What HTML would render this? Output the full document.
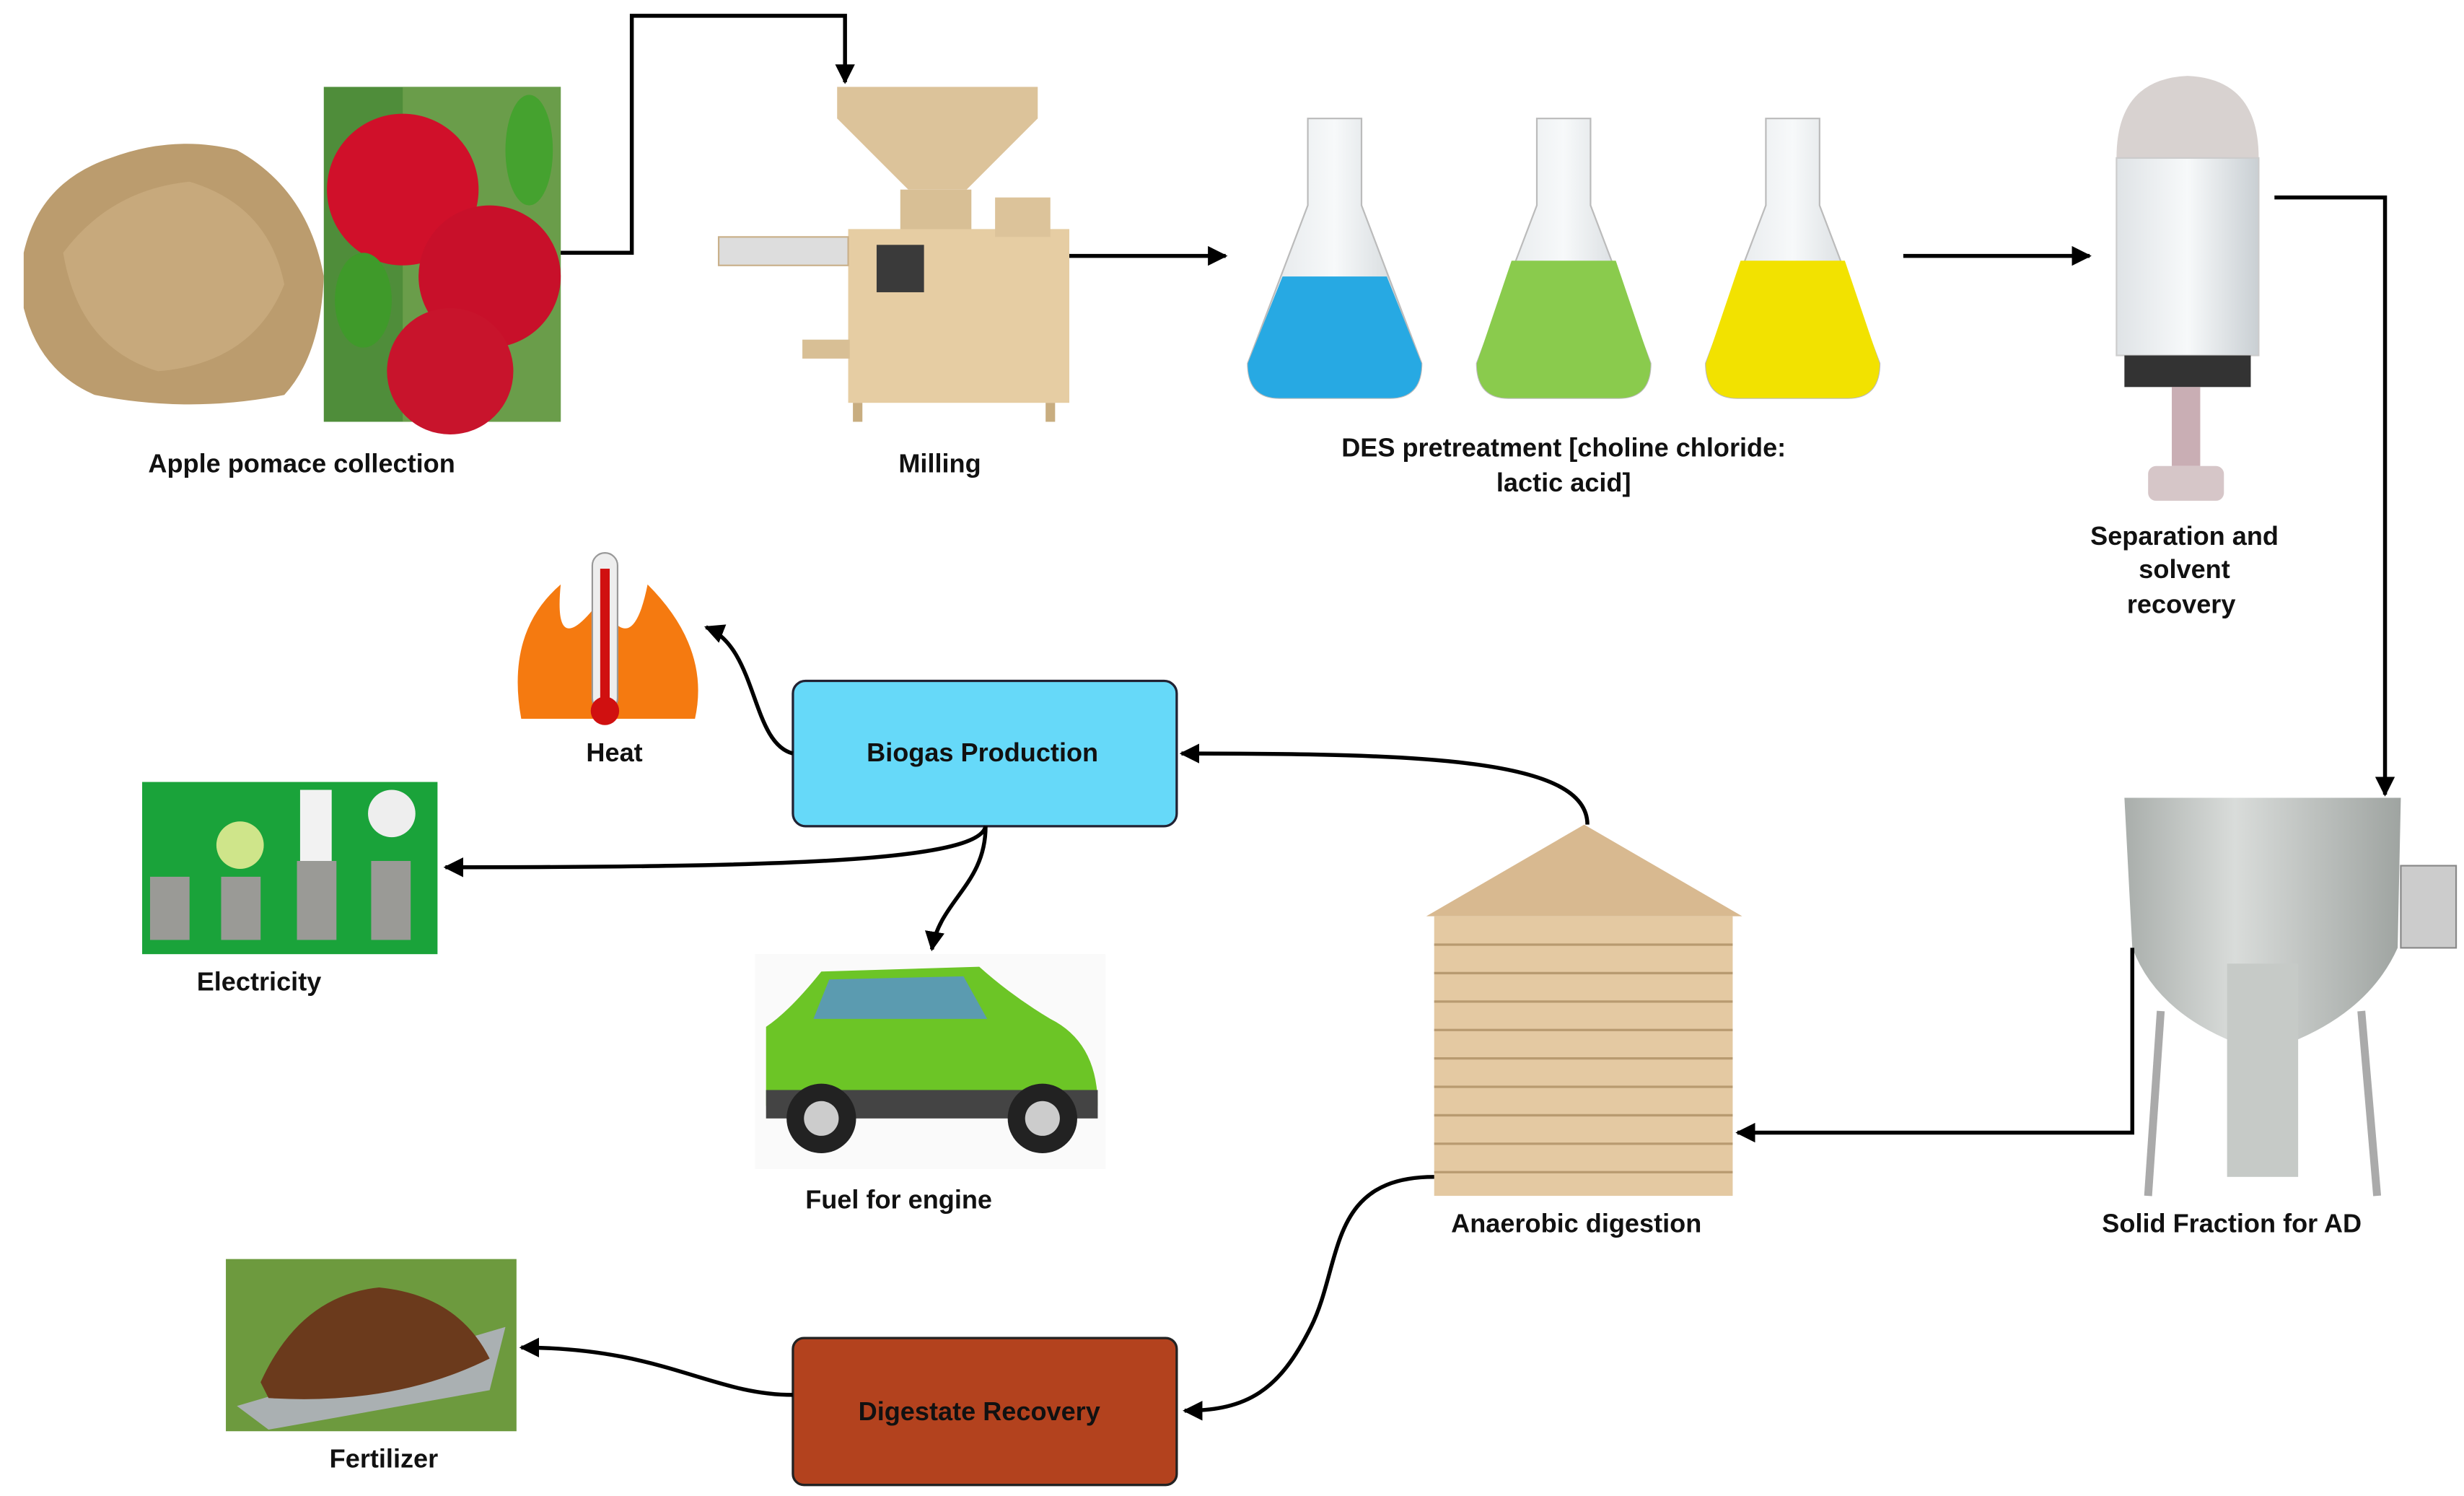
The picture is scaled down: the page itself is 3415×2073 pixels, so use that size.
<!DOCTYPE html>
<html><head><meta charset="utf-8"><style>
html,body{margin:0;padding:0;background:#fff;}
svg{display:block}
text{font-family:"Liberation Sans",sans-serif;font-weight:bold;font-size:16.5px;fill:#111;text-anchor:middle}
</style></head><body>
<svg width="3415" height="2073" viewBox="0 0 1560 947" preserveAspectRatio="none">
<defs>
<marker id="ah" viewBox="0 0 10 10" refX="9" refY="5" markerWidth="5" markerHeight="5" orient="auto-start-reverse"><path d="M0,0L10,5L0,10z" fill="#000"/></marker>
<linearGradient id="gl" x1="0" x2="1"><stop offset="0" stop-color="#dfe3e6"/><stop offset=".5" stop-color="#f7f9fa"/><stop offset="1" stop-color="#c9cfd3"/></linearGradient>
<linearGradient id="st" x1="0" x2="1"><stop offset="0" stop-color="#a9aeab"/><stop offset=".4" stop-color="#d9dcda"/><stop offset="1" stop-color="#9fa4a1"/></linearGradient>
</defs>
<!-- powder -->
<path d="M15,160 Q25,115 70,100 Q110,85 150,95 Q195,120 205,175 Q203,225 180,250 Q120,262 60,250 Q25,235 15,195z" fill="#bb9c6e"/>
<path d="M40,160 Q70,120 120,115 Q170,130 180,180 Q160,230 100,235 Q50,220 40,160z" fill="#c7a97c"/>
<!-- apples -->
<rect x="205" y="55" width="150" height="212" fill="#4f8d3a"/>
<rect x="255" y="55" width="100" height="212" fill="#6a9d4a"/>
<circle cx="255" cy="120" r="48" fill="#d0102a"/><circle cx="310" cy="175" r="45" fill="#c8102a"/><circle cx="285" cy="235" r="40" fill="#c8142c"/>
<ellipse cx="230" cy="190" rx="18" ry="30" fill="#3f9a2a"/><ellipse cx="335" cy="95" rx="15" ry="35" fill="#45a22f"/>
<!-- connector 1 -->
<polyline points="355,160 400,160 400,10 535,10 535,52" fill="none" stroke="#000" stroke-width="2.5" marker-end="url(#ah)"/>
<!-- milling -->
<path d="M530,55 L657,55 L657,75 L612,120 L575,120 L530,75z" fill="#dcc39a"/>
<rect x="570" y="120" width="45" height="30" fill="#d8bf95"/>
<rect x="537" y="145" width="140" height="110" fill="#e6cda3"/>
<rect x="630" y="125" width="35" height="25" fill="#dcc39a"/>
<rect x="555" y="155" width="30" height="30" fill="#3a3a3a"/>
<rect x="455" y="150" width="82" height="18" fill="#ddd" stroke="#c9b08a"/>
<rect x="508" y="215" width="30" height="12" fill="#d8bf95"/>
<rect x="540" y="255" width="6" height="12" fill="#c8ad80"/><rect x="662" y="255" width="6" height="12" fill="#c8ad80"/>
<line x1="677" y1="162" x2="776" y2="162" stroke="#000" stroke-width="2.5" marker-end="url(#ah)"/>
<!-- flasks -->
<g>
<path d="M828,75 L862,75 L862,130 L900,230 Q900,252 880,252 L810,252 Q790,252 790,230 L828,130z" fill="url(#gl)" stroke="#bbb"/>
<path d="M812,175 L878,175 L900,230 Q900,252 880,252 L810,252 Q790,252 790,230z" fill="#27a9e3"/>
<path d="M973,75 L1007,75 L1007,130 L1045,230 Q1045,252 1025,252 L955,252 Q935,252 935,230 L973,130z" fill="url(#gl)" stroke="#bbb"/>
<path d="M957,165 L1023,165 L1045,230 Q1045,252 1025,252 L955,252 Q935,252 935,230z" fill="#8acb4d"/>
<path d="M1118,75 L1152,75 L1152,130 L1190,230 Q1190,252 1170,252 L1100,252 Q1080,252 1080,230 L1118,130z" fill="url(#gl)" stroke="#bbb"/>
<path d="M1102,165 L1168,165 L1190,230 Q1190,252 1170,252 L1100,252 Q1080,252 1080,230z" fill="#f2e200"/>
</g>
<line x1="1205" y1="162" x2="1323" y2="162" stroke="#000" stroke-width="2.5" marker-end="url(#ah)"/>
<!-- separator -->
<path d="M1340,100 Q1340,50 1385,48 Q1430,50 1430,100z" fill="#d8d2d0"/>
<rect x="1340" y="100" width="90" height="125" fill="url(#gl)" stroke="#ccc"/>
<rect x="1345" y="225" width="80" height="20" fill="#333"/>
<rect x="1375" y="245" width="18" height="50" fill="#c9aeb4"/>
<rect x="1360" y="295" width="48" height="22" rx="5" fill="#d6c6c8"/>
<polyline points="1440,125 1510,125 1510,503" fill="none" stroke="#000" stroke-width="2.5" marker-end="url(#ah)"/>
<!-- tank -->
<path d="M1345,505 L1520,505 L1518,600 Q1500,640 1450,660 L1415,660 Q1365,640 1350,600z" fill="url(#st)"/>
<rect x="1410" y="610" width="45" height="135" fill="#c6cac7"/>
<line x1="1368" y1="640" x2="1360" y2="757" stroke="#aaa" stroke-width="5"/><line x1="1495" y1="640" x2="1505" y2="757" stroke="#aaa" stroke-width="5"/>
<rect x="1520" y="548" width="35" height="52" fill="#ccc" stroke="#888"/>
<polyline points="1350,600 1350,717 1100,717" fill="none" stroke="#000" stroke-width="2.5" marker-end="url(#ah)"/>
<!-- silo -->
<path d="M1003,522 L1103,580 L903,580z" fill="#d8b990"/>
<rect x="908" y="580" width="189" height="177" fill="#e4c9a2"/>
<g stroke="#b89a70" stroke-width="1.5">
<line x1="908" y1="598" x2="1097" y2="598"/><line x1="908" y1="616" x2="1097" y2="616"/><line x1="908" y1="634" x2="1097" y2="634"/><line x1="908" y1="652" x2="1097" y2="652"/><line x1="908" y1="670" x2="1097" y2="670"/><line x1="908" y1="688" x2="1097" y2="688"/><line x1="908" y1="706" x2="1097" y2="706"/><line x1="908" y1="724" x2="1097" y2="724"/><line x1="908" y1="742" x2="1097" y2="742"/>
</g>
<path d="M1005,522 C1005,480 900,477 748,477" fill="none" stroke="#000" stroke-width="2.5" marker-end="url(#ah)"/>
<!-- biogas box -->
<rect x="502" y="431" width="243" height="92" rx="8" fill="#66d9f9" stroke="#223" stroke-width="1.5"/>
<!-- heat -->
<path d="M330,455 Q320,400 355,370 Q350,420 380,380 Q400,420 410,370 Q450,410 440,455z" fill="#f57a10"/>
<rect x="375" y="350" width="16" height="100" rx="8" fill="#eee" stroke="#999"/>
<rect x="380" y="360" width="6" height="85" fill="#d01010"/><circle cx="383" cy="450" r="9" fill="#d01010"/>
<path d="M502,477 C475,470 480,410 447,397" fill="none" stroke="#000" stroke-width="2.5" marker-end="url(#ah)"/>
<!-- electricity -->
<rect x="90" y="495" width="187" height="109" fill="#1aa33a"/>
<g fill="#9a9a96"><rect x="95" y="555" width="25" height="40"/><rect x="140" y="555" width="25" height="40"/><rect x="188" y="545" width="25" height="50"/><rect x="235" y="545" width="25" height="50"/></g>
<circle cx="152" cy="535" r="15" fill="#cfe58a"/><circle cx="248" cy="515" r="15" fill="#eee"/><rect x="190" y="500" width="20" height="45" fill="#f2f2f2"/>
<path d="M624,523 C620,545 500,549 282,549" fill="none" stroke="#000" stroke-width="2.5" marker-end="url(#ah)"/>
<!-- car -->
<rect x="478" y="604" width="222" height="136" fill="#fafafa"/>
<path d="M485,700 L485,650 Q500,640 520,615 L620,612 Q640,630 665,645 Q695,660 695,700z" fill="#6cc526"/>
<path d="M525,620 L610,618 L625,645 L515,645z" fill="#5b9bb0"/>
<rect x="485" y="690" width="210" height="18" fill="#444"/>
<circle cx="520" cy="708" r="22" fill="#222"/><circle cx="520" cy="708" r="11" fill="#ccc"/>
<circle cx="660" cy="708" r="22" fill="#222"/><circle cx="660" cy="708" r="11" fill="#ccc"/>
<path d="M624,523 C624,560 595,570 590,601" fill="none" stroke="#000" stroke-width="2.5" marker-end="url(#ah)"/>
<!-- digestate -->
<path d="M908,745 C840,745 850,800 830,840 C810,880 790,893 750,893" fill="none" stroke="#000" stroke-width="2.5" marker-end="url(#ah)"/>
<rect x="502" y="847" width="243" height="93" rx="7" fill="#b3421e" stroke="#222" stroke-width="1.5"/>
<!-- fertilizer -->
<rect x="143" y="797" width="184" height="109" fill="#6d9a3e"/>
<path d="M150,890 L320,840 L310,880 L170,905z" fill="#aab0b2"/>
<path d="M165,875 Q190,820 240,815 Q290,820 310,860 Q250,890 170,885z" fill="#6b3a1c"/>
<path d="M502,883 C450,883 420,853 330,853" fill="none" stroke="#000" stroke-width="2.5" marker-end="url(#ah)"/>
<!-- labels -->
<text x="191" y="299">Apple pomace collection</text>
<text x="595" y="299">Milling</text>
<text x="990" y="289">DES pretreatment [choline chloride:</text>
<text x="990" y="311">lactic acid]</text>
<text x="1383" y="345">Separation and</text>
<text x="1383" y="366">solvent</text>
<text x="1381" y="388">recovery</text>
<text x="1413" y="780">Solid Fraction for AD</text>
<text x="998" y="780">Anaerobic digestion</text>
<text x="622" y="482">Biogas Production</text>
<text x="389" y="482">Heat</text>
<text x="164" y="627">Electricity</text>
<text x="569" y="765">Fuel for engine</text>
<text x="620" y="899">Digestate Recovery</text>
<text x="243" y="929">Fertilizer</text>
</svg>
</body></html>
